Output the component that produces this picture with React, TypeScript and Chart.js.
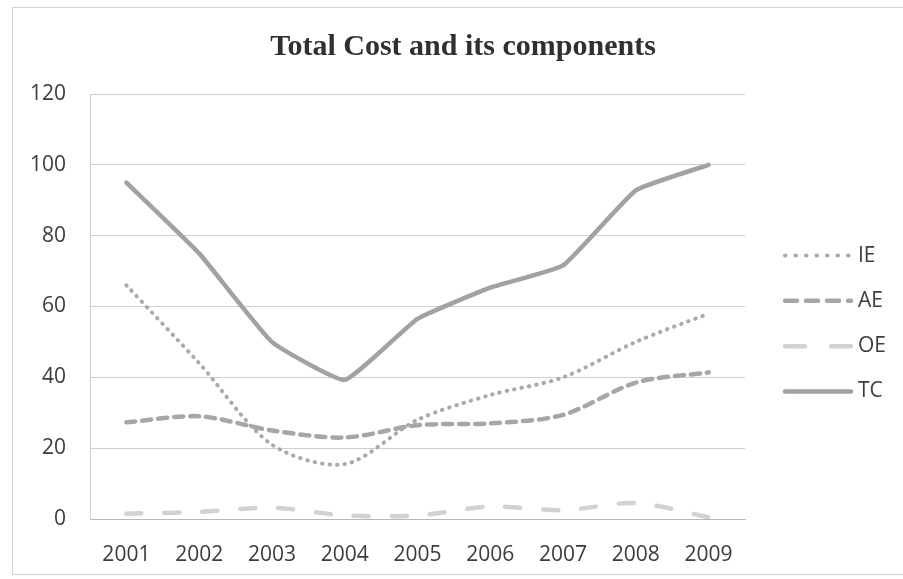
import React, { useEffect, useRef } from "react";
import { Chart, registerables } from "chart.js";

Chart.register(...registerables);

const years = ["2001", "2002", "2003", "2004", "2005", "2006", "2007", "2008", "2009"];
const ieValues = [66, 44, 21, 15.5, 28, 35, 40, 50, 58];
const aeValues = [27.3, 29, 25, 23, 26.5, 27, 29.4, 38.5, 41.4];
const oeValues = [1.5, 2, 3.2, 1, 1, 3.5, 2.5, 4.5, 0.5];
const tcValues = [95, 75, 50, 39.3, 56.5, 65.3, 71.6, 92.8, 100];
const seriesLabels = ["IE", "AE", "OE", "TC"];
const yTicks = [0, 20, 40, 60, 80, 100, 120];
const titleText = "Total Cost and its components";

const frameTitleLegend = {
  id: "frameTitleLegend",
  beforeDraw(chart: any) {
    const ctx = chart.ctx;
    ctx.save();
    ctx.fillStyle = "#ffffff";
    ctx.fillRect(0, 0, chart.width, chart.height);
    ctx.strokeStyle = "#d2d2d2";
    ctx.lineWidth = 1;
    ctx.strokeRect(12.5, 7.5, chart.width, 567);
    ctx.fillStyle = "#303030";
    ctx.font = "bold 30px 'Liberation Serif', 'Times New Roman', serif";
    ctx.textAlign = "center";
    ctx.textBaseline = "alphabetic";
    ctx.fillText(titleText, 463, 55);
    ctx.restore();
  },
  afterDraw(chart: any) {
    const ctx = chart.ctx;
    const area = chart.chartArea;
    const x0 = area.right + 40;
    const len = 66;
    const midY = (area.top + area.bottom) / 2 + 17;
    const gap = 45.3;
    const n = chart.data.datasets.length;
    chart.data.datasets.forEach((ds: any, i: number) => {
      const y = midY + (i - (n - 1) / 2) * gap;
      ctx.save();
      ctx.strokeStyle = ds.borderColor;
      ctx.lineWidth = ds.borderWidth;
      ctx.lineCap = ds.borderCapStyle || "butt";
      ctx.setLineDash(ds.legendDash || ds.borderDash || []);
      ctx.beginPath();
      ctx.moveTo(x0, y);
      ctx.lineTo(x0 + len, y);
      ctx.stroke();
      ctx.setLineDash([]);
      ctx.fillStyle = "#3c3c3c";
      ctx.font = "21px 'Open Sans'";
      ctx.textBaseline = "middle";
      ctx.textAlign = "left";
      ctx.fillText(ds.label, x0 + len + 7, y);
      ctx.restore();
    });
  },
};

export default function App() {
  const ref = useRef<HTMLCanvasElement | null>(null);
  useEffect(() => {
    if (!ref.current) return;
    const chart = new Chart(ref.current, {
      type: "line",
      data: {
        labels: years,
        datasets: [
          {
            label: seriesLabels[0],
            data: ieValues,
            borderColor: "#aaaaaa",
            borderWidth: 4,
            borderDash: [0.5, 7],
            legendDash: [0.5, 10],
            borderCapStyle: "round",
            pointRadius: 0,
            tension: 0.3,
            fill: false,
          } as any,
          {
            label: seriesLabels[1],
            data: aeValues,
            borderColor: "#a6a6a6",
            borderWidth: 4.5,
            borderDash: [9, 7],
            legendDash: [12, 9],
            borderCapStyle: "round",
            pointRadius: 0,
            tension: 0.3,
            fill: false,
          } as any,
          {
            label: seriesLabels[2],
            data: oeValues,
            borderColor: "#d2d2d2",
            borderWidth: 4.5,
            borderDash: [15, 23],
            legendDash: [20, 26],
            borderCapStyle: "round",
            pointRadius: 0,
            tension: 0.3,
            fill: false,
          } as any,
          {
            label: seriesLabels[3],
            data: tcValues,
            borderColor: "#a2a2a2",
            borderWidth: 4.5,
            borderCapStyle: "round",
            pointRadius: 0,
            tension: 0.12,
            fill: false,
          } as any,
        ],
      },
      options: {
        animation: false,
        responsive: false,
        layout: { padding: { left: 0, right: 158, top: 94, bottom: 0 } },
        plugins: {
          legend: { display: false },
          tooltip: { enabled: false },
          title: { display: false },
        },
        scales: {
          x: {
            offset: true,
            grid: { display: false, drawTicks: false },
            border: { display: true, color: "#b8b8b8", width: 1 },
            ticks: {
              color: "#3c3c3c",
              font: { family: "'Open Sans'", size: 21 },
              padding: 23,
              maxRotation: 0,
              autoSkip: false,
            },
            afterFit: (s: any) => {
              s.height = 60;
            },
          },
          y: {
            min: 0,
            max: 120,
            afterBuildTicks: (s: any) => {
              s.ticks = yTicks.map((v) => ({ value: v }));
            },
            grid: { color: "#cfcfcf", lineWidth: 1, drawTicks: false },
            border: { display: true, color: "#d0d0d0", width: 1 },
            ticks: {
              color: "#3c3c3c",
              font: { family: "'Open Sans'", size: 21 },
              padding: 24,
            },
            afterFit: (s: any) => {
              s.width = 90;
            },
          },
        },
      },
      plugins: [frameTitleLegend],
    });
    return () => chart.destroy();
  }, []);
  return (
    <div style={{ position: "absolute", left: 0, top: 0, width: 903, height: 579 }}>
      <canvas ref={ref} width={903} height={579} />
    </div>
  );
}
